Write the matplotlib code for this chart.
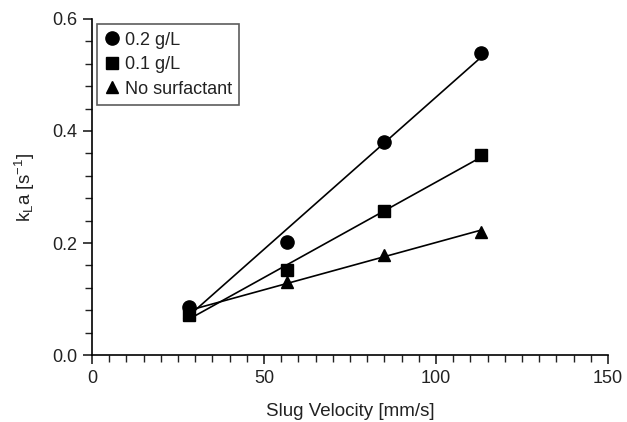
import numpy as np
import matplotlib
matplotlib.use("Agg")
import matplotlib.pyplot as plt
from matplotlib.ticker import MultipleLocator

velocity = [28.3, 56.6, 84.9, 113.2]
kla_02 = [0.086, 0.201, 0.380, 0.539]
kla_01 = [0.071, 0.151, 0.257, 0.357]
kla_none = [0.077, 0.130, 0.179, 0.220]
labels = ["0.2 g/L", "0.1 g/L", "No surfactant"]
markers = ["o", "s", "^"]
msizes = [9.5, 8.5, 9]

plt.rcParams['font.family'] = ['Liberation Sans', 'DejaVu Sans']
plt.rcParams['mathtext.fontset'] = 'custom'
plt.rcParams['mathtext.rm'] = 'Liberation Sans'
plt.rcParams['mathtext.it'] = 'Liberation Sans'

fig = plt.figure(figsize=(6.27, 4.22), dpi=100)
ax = fig.add_axes([92/627, 67/422, 516/627, 336/422])

x = np.array(velocity)
for ys, lab, m, ms in zip([kla_02, kla_01, kla_none], labels, markers, msizes):
    y = np.array(ys)
    p = np.polyfit(x, y, 1)
    xf = np.array([x.min(), x.max()])
    ax.plot(xf, np.polyval(p, xf), color='black', lw=1.2, zorder=2)
    ax.plot(x, y, linestyle='none', marker=m, ms=ms, color='black', label=lab, zorder=3)

ax.set_xlim(0, 150)
ax.set_ylim(0, 0.6)
ax.xaxis.set_major_locator(MultipleLocator(50))
ax.xaxis.set_minor_locator(MultipleLocator(5))
ax.yaxis.set_major_locator(MultipleLocator(0.2))
ax.yaxis.set_minor_locator(MultipleLocator(0.04))
ax.yaxis.set_major_formatter(matplotlib.ticker.FormatStrFormatter('%.1f'))
for s in ['top', 'right']:
    ax.spines[s].set_visible(False)
for s in ['left', 'bottom']:
    ax.spines[s].set_linewidth(1.2)
ax.tick_params(which='major', direction='out', length=6.5, width=1.2, labelsize=13, pad=4,
               colors='#222222')
ax.tick_params(which='minor', direction='out', length=5, width=1.0, colors='#222222')

ax.set_xlabel('Slug Velocity [mm/s]', fontsize=13.5, labelpad=12, color='#222222')
ax.set_ylabel(r'k$_\mathregular{L}$a [s$^\mathregular{-1}$]', fontsize=13.5, labelpad=11,
              color='#222222')

leg = ax.legend(loc='upper left', bbox_to_anchor=(0.0, 1.0), fontsize=13,
                frameon=True, fancybox=False, edgecolor='#333333', handlelength=0.8,
                handletextpad=0.3, borderpad=0.4, labelspacing=0.42, borderaxespad=0.3)
leg.get_frame().set_linewidth(1.2)
for t in leg.get_texts():
    t.set_color('#222222')

fig.savefig('out.png', dpi=100)
